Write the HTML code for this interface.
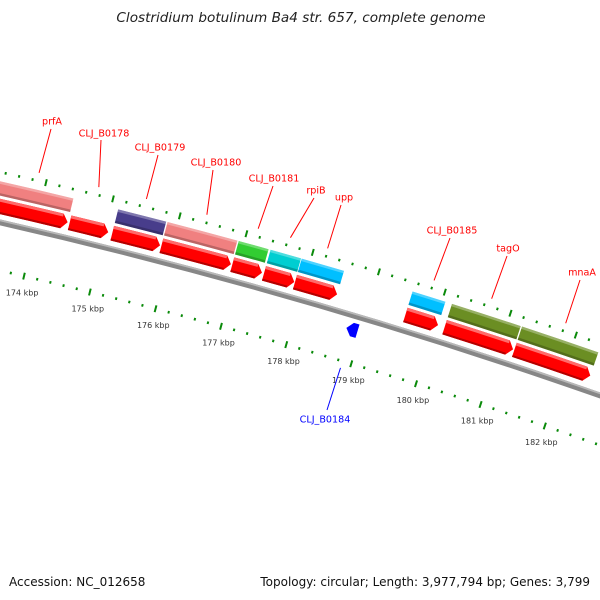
<!DOCTYPE html>
<html><head><meta charset="utf-8">
<style>
html,body{margin:0;padding:0;background:#fff;}
svg{display:block;font-family:"DejaVu Sans","Liberation Sans",sans-serif;}
</style></head>
<body>
<svg id="map" width="600" height="600" viewBox="0 0 600 600">
  <rect width="600" height="600" fill="#fff"/>
  <text x="301" y="22" text-anchor="middle" font-size="13.6" font-style="italic" fill="#222">Clostridium botulinum Ba4 str. 657, complete genome</text>
  <text x="9" y="586" font-size="12" fill="#111">Accession: NC_012658</text>
  <text x="590" y="586" text-anchor="end" font-size="12" fill="#111">Topology: circular; Length: 3,977,794 bp; Genes: 3,799</text>
  <g id="plot"></g>
</svg>
<script>
// ---- data ----
const geneStart = [173.3, 174.47, 175.11, 175.85, 176.92, 177.40, 177.87, 179.55, 180.15, 181.22];
const geneEnd   = [174.44, 175.05, 175.83, 176.90, 177.37, 177.86, 178.51, 180.05, 181.20, 182.39];
const cogColor  = ['#f08080', null, '#483d8b', '#f08080', '#32cd32', '#00ced1', '#00bfff', '#00bfff', '#6b8e23', '#6b8e23'];
const geneLabels = ['prfA', 'CLJ_B0178', 'CLJ_B0179', 'CLJ_B0180', 'CLJ_B0181', 'rpiB', 'upp', 'CLJ_B0185', 'tagO', 'mnaA'];
const revStart = [178.78];
const revEnd   = [178.95];
const revLabels = ['CLJ_B0184'];
const tickLabelKbp = [174, 175, 176, 177, 178, 179, 180, 181, 182];
const tickLabels = ['174 kbp', '175 kbp', '176 kbp', '177 kbp', '178 kbp', '179 kbp', '180 kbp', '181 kbp', '182 kbp'];
// label layout (text centre positions, pixels)
const labelTextPos = [[52,121],[104,133],[160,147],[216,162],[274,178],[316,190],[344,197],[452,230],[508,248],[582,272]];
const labelLineOuter = [[51,129],[101,140],[158,155],[213,170],[273,186],[314,198],[341,205],[450,238],[507,256],[580,280]];
const revTextPos = [[325,419]];
const revLineOuter = [[327,410]];

// ---- axis (circular) ----
const CX = -1235.7, CY = 5633, R0 = 5550;
function ang(k){ return (-76.767 + (k - 174) * 0.7056) * Math.PI / 180; }
function pt(r, k){ const a = ang(k); return [CX + r*Math.cos(a), CY + r*Math.sin(a)]; }
function f(p){ return p[0].toFixed(2) + ',' + p[1].toFixed(2); }
function band(r1, r2, k1, k2){
  return 'M' + f(pt(r2,k1)) + ' A' + r2 + ',' + r2 + ' 0 0 1 ' + f(pt(r2,k2)) +
         ' L' + f(pt(r1,k2)) + ' A' + r1 + ',' + r1 + ' 0 0 0 ' + f(pt(r1,k1)) + ' Z';
}
const NS = 'http://www.w3.org/2000/svg';
const plot = document.getElementById('plot');
function mk(tag, attrs){ const e = document.createElementNS(NS, tag); for (const k in attrs) e.setAttribute(k, attrs[k]); plot.appendChild(e); return e; }

// backbone
let bb = mk('path', {d: band(R0-3, R0+2.8, 171, 185), fill: '#878787'});


let bbh = mk('path', {d: band(R0+1, R0+2.8, 171, 185), fill: '#b8b8b8'});



// ticks
const TIP = 0.085;
for (let i = 0; i <= 60; i++) {
  const k = 172 + i * 0.2;
  const major = (i % 5 === 0);
  const h = major ? 3.5 : 1.3;
  [5599, 5503].forEach(function(r, j){
    const a = pt(r - h, k), b = pt(r + h, k);
    const t = mk('line', {x1: a[0], y1: a[1], x2: b[0], y2: b[1], stroke: '#0a8a0a', 'stroke-width': 2});
    
    
  });
}
tickLabelKbp.forEach(function(k, i){
  const p = pt(5486, k);
  const t = mk('text', {x: p[0] + 2, y: p[1] + 3, 'text-anchor': 'middle', 'font-size': 8, fill: '#333'});
  t.textContent = tickLabels[i];
  
  
});

// forward genes
geneStart.forEach(function(s, i){
  const e = geneEnd[i];
  if (cogColor[i]) {
    const c = mk('path', {d: band(5576, 5590, s, e), fill: cogColor[i]});
    
    
    const hl = mk('path', {d: band(5587.5, 5590, s, e), fill: '#fff', 'fill-opacity': 0.3});
    
    
    const sh = mk('path', {d: band(5576, 5578.5, s, e), fill: '#000', 'fill-opacity': 0.22});
    
    
  }
  const r1 = 5558, r2 = 5573, rm = 5565.5, kb = e - TIP;
  const d = 'M' + f(pt(r2,s)) + ' A' + r2 + ',' + r2 + ' 0 0 1 ' + f(pt(r2,kb)) +
            ' L' + f(pt(rm,e)) + ' L' + f(pt(r1,kb)) +
            ' A' + r1 + ',' + r1 + ' 0 0 0 ' + f(pt(r1,s)) + ' Z';
  const g = mk('path', {d: d, fill: '#ff0000'});
  
  
  const gh = mk('path', {d: band(5570, 5573, s, kb), fill: '#ff6a6a'});
  
  
  const gs = mk('path', {d: band(5558, 5560, s, kb), fill: '#b40000'});
  
  
  // label
  const inner = pt(5607, (s + e) / 2), o = labelLineOuter[i];
  const ln = mk('line', {x1: inner[0], y1: inner[1], x2: o[0], y2: o[1], stroke: '#ff0000', 'stroke-width': 1});
  
  
  const tp = labelTextPos[i];
  const tx = mk('text', {x: tp[0], y: tp[1] + 3.5, 'text-anchor': 'middle', 'font-size': 9.6, fill: '#ff0000'});
  tx.textContent = geneLabels[i];
  
  
});

// reverse genes
revStart.forEach(function(s, i){
  const e = revEnd[i];
  const r1 = 5529, r2 = 5543, rm = 5536, ks = s + TIP;
  const d = 'M' + f(pt(rm,s)) + ' L' + f(pt(r2,ks)) + ' L' + f(pt(r2,e)) +
            ' L' + f(pt(r1,e)) + ' L' + f(pt(r1,ks)) + ' Z';
  const g = mk('path', {d: d, fill: '#0000ff'});
  
  
  const inner = pt(5496, (s + e) / 2), o = revLineOuter[i];
  const ln = mk('line', {x1: inner[0], y1: inner[1], x2: o[0], y2: o[1], stroke: '#0000ff', 'stroke-width': 1});
  
  
  const tp = revTextPos[i];
  const tx = mk('text', {x: tp[0], y: tp[1] + 3.5, 'text-anchor': 'middle', 'font-size': 9.6, fill: '#0000ff'});
  tx.textContent = revLabels[i];
  
  
});
</script>
</body></html>
